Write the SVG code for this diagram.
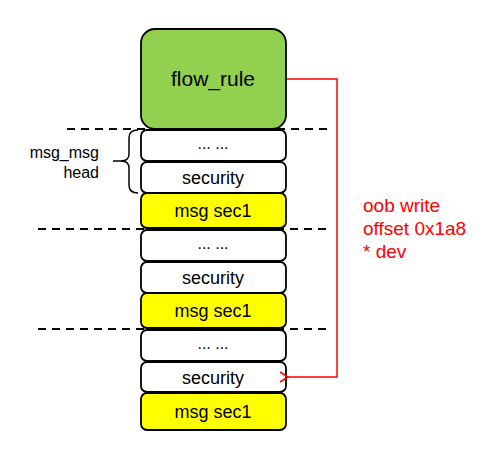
<svg xmlns="http://www.w3.org/2000/svg" width="498" height="452" viewBox="0 0 498 452">
<defs>
<style>
.t{font-family:"Comic Sans MS","Liberation Sans",sans-serif;fill:#000;text-anchor:middle}
.box{stroke:#000;stroke-width:1.8}
.w{fill:#fff}
.y{fill:#ffff00}
.dash{stroke:#000;stroke-width:2;stroke-dasharray:8 6;fill:none}
.red{font-family:"Comic Sans MS","Liberation Sans",sans-serif;fill:#ff0000;font-size:19px}
.lbl{font-family:"Comic Sans MS","Liberation Sans",sans-serif;font-size:16px;text-anchor:end}
</style>
<marker id="ah" markerWidth="12" markerHeight="12" refX="1" refY="6" orient="auto" markerUnits="userSpaceOnUse">
<path d="M9,1 L1,6 L9,11" fill="none" stroke="#ff0000" stroke-width="1.5"/>
</marker>
</defs>
<rect width="498" height="452" fill="#fff"/>
<g id="separators">
<line class="dash" x1="67" y1="129" x2="327" y2="129"/>
<line class="dash" x1="38" y1="229" x2="327" y2="229"/>
<line class="dash" x1="38" y1="329" x2="327" y2="329"/>
</g>
<g id="flow_rule">
<rect class="box" x="141" y="29" width="145" height="100" rx="14" fill="#92d050"/>
<text class="t" x="213" y="86" font-size="21">flow_rule</text>
</g>
<g id="dots1"><rect class="box w" x="141" y="130" width="145" height="31" rx="6"/><text class="t" x="213" y="149" font-size="16">... ...</text></g>
<g id="security1"><rect class="box w" x="141" y="162" width="145" height="31" rx="6"/><text class="t" x="213" y="184" font-size="18">security</text></g>
<g id="msgsec1a"><rect class="box y" x="141" y="193" width="145" height="35" rx="6"/><text class="t" x="213" y="217" font-size="18">msg sec1</text></g>
<g id="dots2"><rect class="box w" x="141" y="230" width="145" height="31" rx="6"/><text class="t" x="213" y="249" font-size="16">... ...</text></g>
<g id="security2"><rect class="box w" x="141" y="262" width="145" height="31" rx="6"/><text class="t" x="213" y="284" font-size="18">security</text></g>
<g id="msgsec1b"><rect class="box y" x="141" y="293" width="145" height="35" rx="6"/><text class="t" x="213" y="317" font-size="18">msg sec1</text></g>
<g id="dots3"><rect class="box w" x="141" y="330" width="145" height="31" rx="6"/><text class="t" x="213" y="349" font-size="16">... ...</text></g>
<g id="security3"><rect class="box w" x="141" y="362" width="145" height="30" rx="6"/><text class="t" x="213" y="384" font-size="18">security</text></g>
<g id="msgsec1c"><rect class="box y" x="141" y="393" width="145" height="37" rx="6"/><text class="t" x="213" y="418" font-size="18">msg sec1</text></g>
<g id="msg_msg_head">
<path d="M138,130 Q129,130 129,138 L129,154 Q129,161 121,161 L113,161 M121,161 Q129,161 129,168 L129,185 Q129,193 138,193" fill="none" stroke="#000" stroke-width="1.5"/>
<text class="lbl" x="99" y="158">msg_msg</text>
<text class="lbl" x="99" y="178">head</text>
</g>
<g id="connectors">
<path d="M287,79 L337,79 L337,377 L288,377" fill="none" stroke="#ff0000" stroke-width="1.5" marker-end="url(#ah)"/>
</g>
<g id="oob_label">
<text class="red" x="363" y="212">oob write</text>
<text class="red" x="363" y="235">offset 0x1a8</text>
<text class="red" x="363" y="258">* dev</text>
</g>
</svg>
